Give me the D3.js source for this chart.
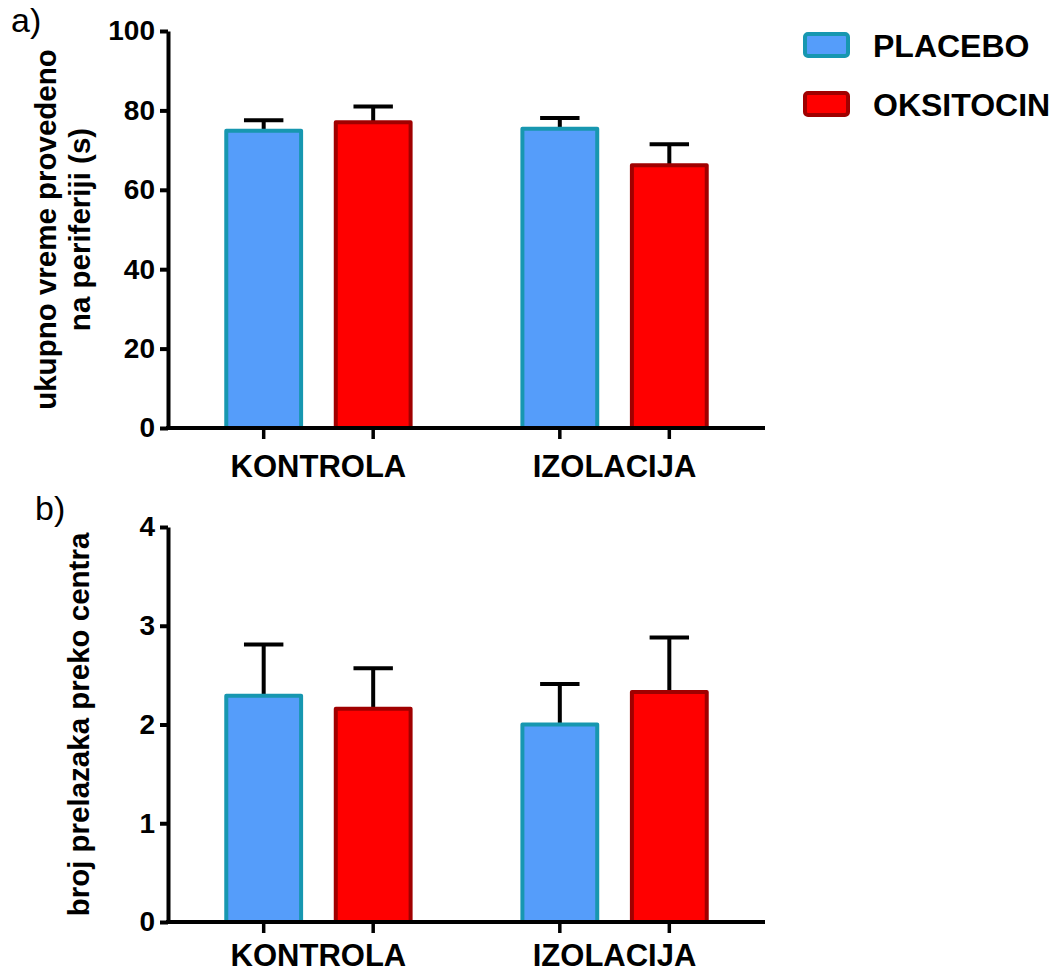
<!DOCTYPE html>
<html>
<head>
<meta charset="utf-8">
<script src="https://cdn.jsdelivr.net/npm/d3@7/dist/d3.min.js"></script>
<style>
  html, body { margin: 0; padding: 0; background: #fff; }
  svg { display: block; }
  text { font-family: "Liberation Sans", Arial, Helvetica, sans-serif; }
</style>
</head>
<body>
<script>
// ---------- data ----------
const groups = ["KONTROLA", "IZOLACIJA"];
const seriesNames = ["PLACEBO", "OKSITOCIN"];

// panel a) total time spent in periphery (s): mean and SEM
const placeboTime = [74.9, 75.4];
const placeboTimeErr = [2.6, 2.7];
const oksitocinTime = [77.0, 66.2];
const oksitocinTimeErr = [4.0, 5.3];
const timeTicks = [0, 20, 40, 60, 80, 100];

// panel b) number of center crossings: mean and SEM
const placeboCross = [2.29, 2.00];
const placeboCrossErr = [0.52, 0.41];
const oksitocinCross = [2.16, 2.33];
const oksitocinCrossErr = [0.41, 0.55];
const crossTicks = [0, 1, 2, 3, 4];

// ---------- styles ----------
const fills = { PLACEBO: "#559dfa", OKSITOCIN: "#ff0000" };
const strokes = { PLACEBO: "#1797b0", OKSITOCIN: "#a00000" };
const W = 1053, H = 973;
const sw = 4;

const svg = d3.select("body").append("svg").attr("width", W).attr("height", H);

// shared x scales
const xGroup = d3.scaleBand().domain(groups).range([168, 765])
  .paddingInner(0.364).paddingOuter(0.19);
const xSeries = d3.scaleBand().domain(seriesNames).range([0, xGroup.bandwidth()])
  .paddingInner(0.28).paddingOuter(0);

function drawPanel(opts) {
  const g = svg.append("g");
  const y = d3.scaleLinear().domain(opts.domain).range([opts.y0, opts.y1]);
  const rows = [];
  groups.forEach((grp, i) => {
    rows.push({ grp, s: "PLACEBO", v: opts.p[i], e: opts.pe[i] });
    rows.push({ grp, s: "OKSITOCIN", v: opts.o[i], e: opts.oe[i] });
  });
  const cx = d => xGroup(d.grp) + xSeries(d.s) + xSeries.bandwidth() / 2;

  // error bars (upper only)
  g.selectAll(".stem").data(rows).join("line")
    .attr("x1", cx).attr("x2", cx)
    .attr("y1", d => y(d.v)).attr("y2", d => y(d.v + d.e))
    .attr("stroke", "#000").attr("stroke-width", sw);
  g.selectAll(".cap").data(rows).join("line")
    .attr("x1", d => cx(d) - xSeries.bandwidth() / 4)
    .attr("x2", d => cx(d) + xSeries.bandwidth() / 4)
    .attr("y1", d => y(d.v + d.e)).attr("y2", d => y(d.v + d.e))
    .attr("stroke", "#000").attr("stroke-width", sw);

  // bars
  g.selectAll(".bar").data(rows).join("rect")
    .attr("x", d => xGroup(d.grp) + xSeries(d.s) + sw / 2)
    .attr("width", xSeries.bandwidth() - sw)
    .attr("y", d => y(d.v))
    .attr("height", d => y(0) - y(d.v))
    .attr("fill", d => fills[d.s])
    .attr("stroke", d => strokes[d.s])
    .attr("stroke-width", sw)
    .attr("stroke-linejoin", "round");

  // y axis
  const ya = g.append("g").attr("transform", `translate(${xGroup.range()[0]},0)`)
    .call(d3.axisLeft(y).tickValues(opts.ticks).tickFormat(d3.format("d"))
      .tickSize(8).tickSizeOuter(0).tickPadding(5));
  ya.select(".domain").attr("stroke", "#000").attr("stroke-width", sw);
  ya.selectAll(".tick line").attr("stroke", "#000").attr("stroke-width", sw);
  ya.selectAll(".tick text").attr("fill", "#000")
    .style("font-size", "28px").style("font-weight", "bold")
    .style("font-family", '"Liberation Sans", Arial, sans-serif');

  // x axis line
  g.append("line")
    .attr("x1", xGroup.range()[0] - sw / 2).attr("x2", xGroup.range()[1])
    .attr("y1", y(0)).attr("y2", y(0))
    .attr("stroke", "#000").attr("stroke-width", sw);
  g.selectAll(".xt").data(rows).join("line")
    .attr("x1", cx).attr("x2", cx)
    .attr("y1", y(0)).attr("y2", y(0) + 11)
    .attr("stroke", "#000").attr("stroke-width", 3.5);
  g.selectAll(".xl").data(groups).join("text")
    .attr("x", d => xGroup(d) + xGroup.bandwidth() / 2)
    .attr("y", opts.xlabelY)
    .attr("text-anchor", "middle")
    .attr("font-size", 31).attr("font-weight", "bold").attr("fill", "#000")
    .text(d => d);

  // y title
  const midY = (opts.y0 + opts.y1) / 2;
  opts.title.forEach((t, i) => {
    g.append("text")
      .attr("transform", `translate(${opts.titleX[i]},${midY}) rotate(-90)`)
      .attr("text-anchor", "middle")
      .attr("font-size", 29.5).attr("font-weight", "bold").attr("fill", "#000")
      .text(t);
  });

  // panel letter
  g.append("text").attr("x", opts.letterX).attr("y", opts.letterY)
    .attr("font-size", 34).attr("fill", "#000").text(opts.letter);
}

drawPanel({
  domain: [0, 100], y0: 428, y1: 31, ticks: timeTicks,
  p: placeboTime, pe: placeboTimeErr, o: oksitocinTime, oe: oksitocinTimeErr,
  title: ["ukupno vreme provedeno", "na periferiji (s)"], titleX: [56, 90],
  xlabelY: 477, letter: "a)", letterX: 11, letterY: 32
});

drawPanel({
  domain: [0, 4], y0: 922, y1: 527, ticks: crossTicks,
  p: placeboCross, pe: placeboCrossErr, o: oksitocinCross, oe: oksitocinCrossErr,
  title: ["broj prelazaka preko centra"], titleX: [89],
  xlabelY: 966, letter: "b)", letterX: 35, letterY: 520
});

// legend
const leg = svg.append("g");
seriesNames.forEach((s, i) => {
  const ly = 45 + i * 59;
  leg.append("rect").attr("x", 805).attr("y", ly - 11).attr("width", 43).attr("height", 22)
    .attr("rx", 3).attr("fill", fills[s]).attr("stroke", strokes[s]).attr("stroke-width", sw);
  leg.append("text").attr("x", 873).attr("y", ly).attr("dy", "0.36em")
    .attr("font-size", 32).attr("font-weight", "bold").attr("fill", "#000").text(s);
});
</script>
</body>
</html>
